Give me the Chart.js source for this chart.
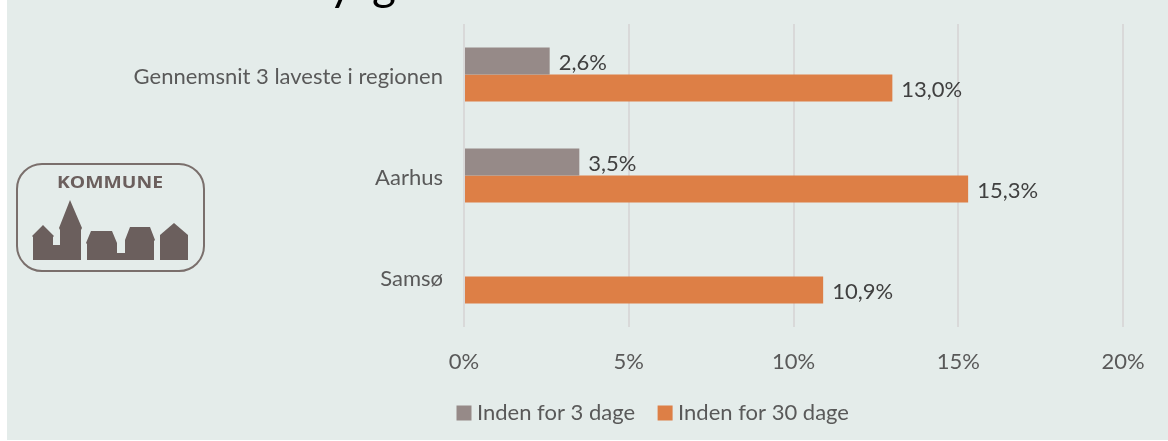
<!DOCTYPE html>
<html><head><meta charset="utf-8">
<script src="https://cdn.jsdelivr.net/npm/chart.js@4"></script>
<style>
html,body{margin:0;padding:0;background:#fff;width:1168px;height:441px;overflow:hidden}
#panel{position:absolute;left:7px;top:0;width:1161px;height:440px;background:#e4ecea}
#wrap{position:absolute;left:0;top:0;width:1168px;height:441px}
#deco{position:absolute;left:0;top:0}
</style></head><body>
<div id="panel"></div>
<div id="wrap"><canvas id="c" width="1168" height="441"></canvas></div>
<svg id="deco" width="1168" height="441" xmlns="http://www.w3.org/2000/svg">
  <text x="329" y="0" font-family="Lato" font-size="46" fill="#000">y</text>
  <text x="372" y="0" font-family="Lato" font-size="46" fill="#000">g</text>
  <rect x="17" y="164" width="187" height="107" rx="25" ry="25" fill="none" stroke="#7a6f6c" stroke-width="2"/>
  <text x="57" y="188" font-family="Open Sans" font-weight="700" font-size="16.5" fill="#6b5f5d" textLength="106" lengthAdjust="spacingAndGlyphs">KOMMUNE</text>
  <path fill="#6b5f5d" d="M33 260V237L32 236L43 225L54 236L53 237V245H60V230L59 228L70 200L82 228L81 230V260Z"/>
  <path fill="#6b5f5d" d="M87 260V244L86 243L91 231H112L117 243V253H125V240L130 227H150L155 240L154 241V260Z"/>
  <path fill="#6b5f5d" d="M160 260V235L174 223L188 235V260Z"/>
</svg>
<script>
const categories = ["Gennemsnit 3 laveste i regionen", "Aarhus", "Samsø"];
const seriesNames = ["Inden for 3 dage", "Inden for 30 dage"];
const within3 = [2.6, 3.5, null];
const within30 = [13.0, 15.3, 10.9];
const FONT = "Lato";
const TEXT = "#595959";
const FS = 22;

const valueLabels = {
  id: "valueLabels",
  afterDatasetsDraw(chart) {
    const ctx = chart.ctx;
    ctx.save();
    ctx.font = FS + "px " + FONT;
    ctx.fillStyle = "#404040";
    ctx.textAlign = "left";
    ctx.textBaseline = "middle";
    chart.data.datasets.forEach((ds, i) => {
      chart.getDatasetMeta(i).data.forEach((el, j) => {
        const v = ds.data[j];
        if (v == null) return;
        ctx.fillText(v.toFixed(1).replace(".", ",") + "%", el.x + 9, el.y + 2);
      });
    });
    ctx.restore();
  }
};

const legendPlacement = {
  id: "legendPlacement",
  beforeLayout(chart) {
    const l = chart.legend;
    if (l && !l._fitWrapped) {
      const fit = l.fit;
      l.fit = function () { fit.call(this); this.height = 40; };
      l._fitWrapped = true;
    }
  },
  afterLayout(chart) {
    const l = chart.legend;
    if (!l) return;
    l.left = 434;
    l.right = 1168;
    l.top = 413 - FS / 2 - 28;
  }
};

new Chart(document.getElementById("c"), {
  type: "bar",
  data: {
    labels: categories,
    datasets: [
      { label: seriesNames[0], data: within3, backgroundColor: "#968a88" },
      { label: seriesNames[1], data: within30, backgroundColor: "#dd7f46" }
    ]
  },
  options: {
    indexAxis: "y",
    responsive: false,
    animation: false,
    categoryPercentage: 0.535,
    barPercentage: 1,
    layout: { padding: { left: 0, right: 45, top: 24, bottom: 8 } },
    scales: {
      x: {
        min: 0, max: 20,
        ticks: { stepSize: 5, padding: 22, color: TEXT, font: { family: FONT, size: FS }, callback: v => v + "%", maxRotation: 0 },
        grid: { color: "#d9d9d9", lineWidth: 2, drawTicks: false },
        border: { display: false },
        afterFit(s) { s.height = 66; s.paddingRight = 0; }
      },
      y: {
        ticks: { padding: 21, labelOffset: 2, color: TEXT, font: { family: FONT, size: FS } },
        grid: { display: false, drawTicks: false },
        border: { display: false },
        afterFit(s) { s.width = 464; s.paddingTop = 0; s.paddingBottom = 0; }
      }
    },
    plugins: {
      title: { display: false },
      tooltip: { enabled: false },
      legend: {
        position: "bottom",
        align: "start",
        labels: {
          boxWidth: 4, boxHeight: 4, padding: 28, color: TEXT, font: { family: FONT, size: FS },
          generateLabels(chart) {
            return Chart.defaults.plugins.legend.labels.generateLabels(chart).map(it =>
              Object.assign(it, { strokeStyle: it.fillStyle, lineWidth: 11 }));
          }
        }
      }
    }
  },
  plugins: [valueLabels, legendPlacement]
});
</script>
</body></html>
